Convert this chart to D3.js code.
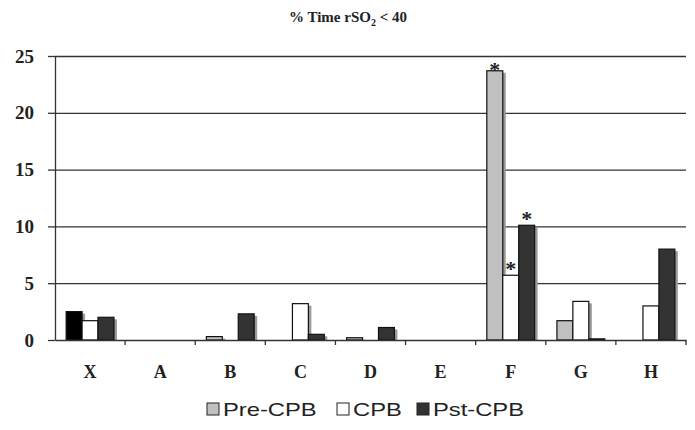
<!DOCTYPE html>
<html>
<head>
<meta charset="utf-8">
<script src="https://cdn.jsdelivr.net/npm/d3@7"></script>
<style>
  body { margin: 0; background: #fff; }
  svg { display: block; }
  .serif { font-family: "Liberation Serif", "Times New Roman", serif; }
  .sans { font-family: "Liberation Sans", Arial, sans-serif; }
</style>
</head>
<body>
<svg id="chart" width="695" height="430"></svg>
<script>
/* ───── data ───── */
const categories = ['X', 'A', 'B', 'C', 'D', 'E', 'F', 'G', 'H'];
const seriesNames = ['Pre-CPB', 'CPB', 'Pst-CPB'];
const preCPB = [2.5, 0, 0.3, 0, 0.2, 0, 23.7, 1.7, 0];
const cpb    = [1.7, 0, 0, 3.2, 0, 0, 5.7, 3.4, 3.0];
const pstCPB = [2.0, 0, 2.3, 0.5, 1.1, 0, 10.1, 0.1, 8.0];
const yTicks = [0, 5, 10, 15, 20, 25];
// significance markers: [category, series]
const starred = [['F', 'Pre-CPB'], ['F', 'CPB'], ['F', 'Pst-CPB']];

const seriesColor = { 'Pre-CPB': '#c0c0c0', 'CPB': '#ffffff', 'Pst-CPB': '#333333' };

/* ───── layout ───── */
const W = 695, H = 430;
const m = { top: 56, right: 9, bottom: 90, left: 55 };
const svg = d3.select('#chart');

const x = d3.scaleBand().domain(categories).range([m.left, W - m.right]).paddingInner(0).paddingOuter(0);
const xs = d3.scaleBand().domain(seriesNames).range([0, x.bandwidth()]).paddingInner(0).paddingOuter(0.7);
const y = d3.scaleLinear().domain([0, 25]).range([H - m.bottom, m.top]);

const rows = categories.map((c, i) => ({
  cat: c,
  vals: [
    { s: 'Pre-CPB', v: preCPB[i] },
    { s: 'CPB', v: cpb[i] },
    { s: 'Pst-CPB', v: pstCPB[i] },
  ],
}));

// gridlines
svg.append('g')
  .attr('transform', `translate(${m.left},0)`)
  .call(d3.axisLeft(y).tickValues(yTicks.slice(1)).tickSize(-(W - m.left - m.right)).tickFormat(''))
  .call(g => g.select('.domain').remove())
  .call(g => g.selectAll('line').attr('stroke', '#333').attr('stroke-width', 1.3));

// bars (with soft gray shadow)
const grp = svg.append('g').selectAll('g').data(rows).join('g')
  .attr('transform', d => `translate(${x(d.cat)},0)`);

grp.selectAll('rect.shadow').data(d => d.vals.filter(v => v.v > 0)).join('rect')
  .attr('class', 'shadow')
  .attr('x', d => xs(d.s) + 3)
  .attr('y', d => y(d.v) + 2)
  .attr('width', xs.bandwidth())
  .attr('height', d => y(0) - y(d.v) - 2)
  .attr('fill', '#9a9a9a');

grp.selectAll('rect.bar').data(d => d.vals.filter(v => v.v > 0).map(v => ({ ...v, cat: d.cat }))).join('rect')
  .attr('class', 'bar')
  .attr('x', d => xs(d.s))
  .attr('y', d => y(d.v))
  .attr('width', xs.bandwidth())
  .attr('height', d => y(0) - y(d.v))
  .attr('fill', d => (d.cat === 'X' && d.s === 'Pre-CPB') ? '#000' : seriesColor[d.s])
  .attr('stroke', '#111')
  .attr('stroke-width', 1.2);

// asterisks
const starLift = { 'Pre-CPB': 6, 'CPB': 11, 'Pst-CPB': 11 };
svg.append('g').selectAll('text').data(starred).join('text')
  .attr('class', 'serif')
  .attr('x', d => x(d[0]) + xs(d[1]) + xs.bandwidth() / 2)
  .attr('y', d => y(rows.find(r => r.cat === d[0]).vals.find(v => v.s === d[1]).v) - starLift[d[1]] + 12)
  .attr('text-anchor', 'middle')
  .attr('font-weight', 'bold')
  .attr('font-size', 22)
  .attr('fill', '#222')
  .text('*');

// y axis
const yAxis = svg.append('g')
  .attr('transform', `translate(${m.left},0)`)
  .call(d3.axisLeft(y).tickValues(yTicks).tickSize(7).tickPadding(14).tickSizeOuter(0));
yAxis.attr('font-family', null);
yAxis.selectAll('line, path').attr('stroke', '#333').attr('stroke-width', 1.3);
yAxis.selectAll('text')
  .attr('class', 'serif')
  .attr('font-weight', 'bold')
  .attr('font-size', 19)
  .attr('fill', '#222');

// x axis
const xAxis = svg.append('g')
  .attr('transform', `translate(0,${y(0)})`)
  .call(d3.axisBottom(x).tickSize(0).tickPadding(25));
xAxis.attr('font-family', null);
xAxis.select('.domain').attr('stroke', '#333').attr('stroke-width', 1.3);
xAxis.selectAll('text')
  .attr('class', 'serif')
  .attr('font-weight', 'bold')
  .attr('font-size', 18)
  .attr('fill', '#222');
xAxis.append('g').selectAll('line')
  .data(categories.slice(1).map(c => x(c)).concat([x.range()[1]]))
  .join('line')
  .attr('x1', d => d).attr('x2', d => d)
  .attr('y1', 0).attr('y2', 5)
  .attr('stroke', '#333').attr('stroke-width', 1.3);

// title
const title = svg.append('text')
  .attr('class', 'serif')
  .attr('x', 348).attr('y', 22)
  .attr('text-anchor', 'middle')
  .attr('font-weight', 'bold')
  .attr('font-size', 15)
  .attr('fill', '#222');
title.append('tspan').text('% Time rSO');
title.append('tspan').attr('font-size', 10).attr('dy', 4).text('2');
title.append('tspan').attr('dy', -4).text(' < 40');

// legend
const legendX = [207, 337, 417];
const lg = svg.append('g').selectAll('g').data(seriesNames).join('g')
  .attr('transform', (d, i) => `translate(${legendX[i]},403)`);
lg.append('rect')
  .attr('x', 0).attr('y', 0).attr('width', 12).attr('height', 12)
  .attr('fill', d => seriesColor[d])
  .attr('stroke', '#222').attr('stroke-width', 1);
lg.append('text')
  .attr('class', 'sans')
  .attr('transform', 'translate(16,13) scale(1.25,1)')
  .attr('font-size', 19)
  .attr('fill', '#222')
  .text(d => d);
</script>
</body>
</html>
